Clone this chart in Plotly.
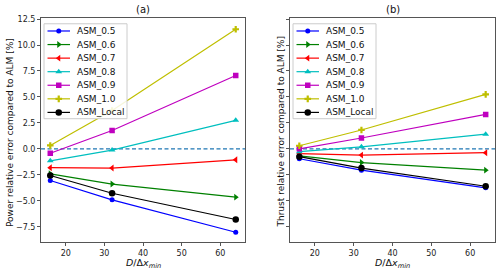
import plotly.graph_objects as go

W, H = 500, 272

# ---------------- data ----------------
d_ratio = [16, 32, 64]
series_names = ["ASM_0.5", "ASM_0.6", "ASM_0.7", "ASM_0.8", "ASM_0.9", "ASM_1.0", "ASM_Local"]

power_asm_05 = [-3.05, -4.91, -8.03]
power_asm_06 = [-2.40, -3.39, -4.65]
power_asm_07 = [-1.81, -1.85, -1.05]
power_asm_08 = [-1.15, -0.12, 2.75]
power_asm_09 = [-0.42, 1.77, 7.07]
power_asm_10 = [0.33, 3.70, 11.52]
power_asm_local = [-2.56, -4.27, -6.80]

thrust_asm_05 = [-0.95, -2.05, -3.75]
thrust_asm_06 = [-0.68, -1.32, -2.05]
thrust_asm_07 = [-0.45, -0.60, -0.37]
thrust_asm_08 = [-0.27, 0.20, 1.42]
thrust_asm_09 = [0.00, 1.05, 3.32]
thrust_asm_10 = [0.30, 1.82, 5.25]
thrust_asm_local = [-0.75, -1.85, -3.60]

y_tick_vals = [-7.5, -5.0, -2.5, 0.0, 2.5, 5.0, 7.5, 10.0, 12.5]
y_tick_text = ["\u22127.5", "\u22125.0", "\u22122.5", "0.0", "2.5", "5.0", "7.5", "10.0", "12.5"]
x_tick_vals = [20, 30, 40, 50, 60]

power = [power_asm_05, power_asm_06, power_asm_07, power_asm_08,
         power_asm_09, power_asm_10, power_asm_local]
thrust = [thrust_asm_05, thrust_asm_06, thrust_asm_07, thrust_asm_08,
          thrust_asm_09, thrust_asm_10, thrust_asm_local]

# ---------------- styles ----------------
colors = ["#0000ff", "#008000", "#ff0000", "#00bfbf", "#bf00bf", "#bfbf00", "#000000"]
symbols = ["circle", "triangle-right", "triangle-left", "triangle-up", "square", "cross", "circle"]
msizes = [5, 6, 6, 6, 5.5, 5.5, 6.5]
FONT = "DejaVu Sans"

# pixel layout
ax_a = (41, 245)
ax_b = (290, 495)
ax_top, ax_bot = 15, 242

fig = go.Figure()

def add_panel(data, xa, ya):
    for name, vals, c, s, ms in zip(series_names, data, colors, symbols, msizes):
        fig.add_trace(go.Scatter(
            x=d_ratio, y=vals, name=name, mode="lines+markers",
            line=dict(color=c, width=1.2),
            marker=dict(symbol=s, size=ms, color=c, line=dict(width=0)),
            xaxis=xa, yaxis=ya, showlegend=False,
        ))

add_panel(power, "x", "y")
add_panel(thrust, "x2", "y2")

# ---------------- legends (overlay pixel axis) ----------------
leg_boxes = [(44, 21, 127, 117), (293, 21, 376, 117)]
first_y, step_y = 28.3, 13.72
for (bx0, by0, bx1, by1) in leg_boxes:
    fig.add_trace(go.Scatter(
        x=[bx0, bx1, bx1, bx0, bx0], y=[by0, by0, by1, by1, by0],
        mode="lines", fill="toself", fillcolor="rgba(255,255,255,0.85)",
        line=dict(color="#cccccc", width=1), xaxis="x3", yaxis="y3",
        showlegend=False, hoverinfo="skip"))
    lx0, lx1 = bx0 + 3.5, bx0 + 26
    for i, (name, c, s, ms) in enumerate(zip(series_names, colors, symbols, msizes)):
        yy = first_y + i * step_y
        fig.add_trace(go.Scatter(
            x=[lx0, lx1], y=[yy, yy], mode="lines", line=dict(color=c, width=1.2),
            xaxis="x3", yaxis="y3", showlegend=False, hoverinfo="skip"))
        fig.add_trace(go.Scatter(
            x=[(lx0 + lx1) / 2], y=[yy], mode="markers",
            marker=dict(symbol=s, size=ms, color=c, line=dict(width=0)),
            xaxis="x3", yaxis="y3", showlegend=False, hoverinfo="skip"))
        fig.add_annotation(
            x=(bx0 + 31) / W, y=1 - yy / H, xref="paper", yref="paper",
            text=name, showarrow=False, xanchor="left", yanchor="middle",
            font=dict(family=FONT, size=9, color="#111"))

axis_common = dict(
    showline=True, mirror=True, linecolor="#555", linewidth=1,
    ticks="outside", ticklen=3, tickwidth=1, tickcolor="#555",
    showgrid=False, zeroline=False,
    tickfont=dict(family=FONT, size=8, color="#222"),
)

yrange = [-9.0, 12.62]
xrange_ = [13.6, 66.4]
ydom = [1 - ax_bot / H, 1 - ax_top / H]

fig.update_layout(
    width=W, height=H, margin=dict(l=0, r=0, t=0, b=0),
    paper_bgcolor="white", plot_bgcolor="rgba(0,0,0,0)",
    xaxis=dict(domain=[ax_a[0] / W, ax_a[1] / W], range=xrange_, tickvals=x_tick_vals,
               anchor="y", **axis_common),
    yaxis=dict(domain=ydom, range=yrange, tickvals=y_tick_vals, ticktext=y_tick_text,
               anchor="x", **axis_common),
    xaxis2=dict(domain=[ax_b[0] / W, ax_b[1] / W], range=xrange_, tickvals=x_tick_vals,
                anchor="y2", **axis_common),
    yaxis2=dict(domain=ydom, range=yrange, tickvals=y_tick_vals, showticklabels=False,
                anchor="x2", **axis_common),
    xaxis3=dict(domain=[0, 1], range=[0, W], visible=False, anchor="y3", fixedrange=True),
    yaxis3=dict(domain=[0, 1], range=[H, 0], visible=False, anchor="x3", fixedrange=True),
    showlegend=False,
)

# zero reference lines
for xr, yr in [("x domain", "y"), ("x2 domain", "y2")]:
    fig.add_shape(type="line", xref=xr, yref=yr, x0=0, x1=1, y0=0, y1=0,
                  line=dict(color="#1f77b4", width=1.3, dash="4px,2.5px"), layer="below")

# titles & axis labels
for (x0, x1), title, ylab, ylab_x in [
        (ax_a, "(a)", "Power relative error compared to ALM [%]", 9.5),
        (ax_b, "(b)", "Thrust relative error compared to ALM [%]", 281)]:
    cx = (x0 + x1) / 2 / W
    fig.add_annotation(x=cx, y=1 - 7 / H, xref="paper", yref="paper", text=title,
                       showarrow=False, xanchor="center", yanchor="middle",
                       font=dict(family=FONT, size=10, color="#111"))
    fig.add_annotation(x=cx, y=0, xref="paper", yref="paper",
                       text="<i>D</i>/\u0394<i>x</i><sub><i>min</i></sub>",
                       showarrow=False, xanchor="center", yanchor="bottom",
                       font=dict(family=FONT, size=9.5, color="#111"))
    fig.add_annotation(x=ylab_x / W, y=1 - 131 / H, xref="paper", yref="paper",
                       text=ylab, textangle=-90, showarrow=False,
                       xanchor="center", yanchor="middle",
                       font=dict(family=FONT, size=9, color="#111"))

fig.write_html("out.html", config={"displayModeBar": False, "staticPlot": True},
               post_script="document.body.style.margin='0';document.body.style.overflow='hidden';")
